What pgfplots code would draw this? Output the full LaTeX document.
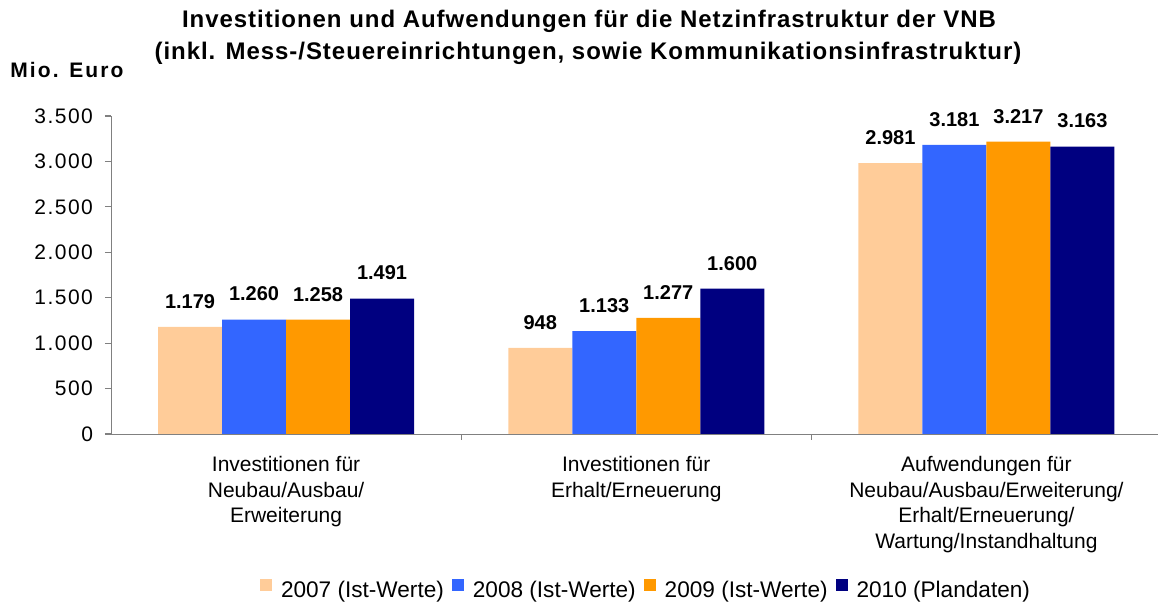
\documentclass[border=0pt]{standalone}
\usepackage{fontspec}
\setmainfont{Liberation Sans}
\usepackage{pgfplots}
\pgfplotsset{compat=1.18}
\definecolor{cA}{HTML}{FFCC99}
\definecolor{cB}{HTML}{3366FF}
\definecolor{cC}{HTML}{FF9900}
\definecolor{cD}{HTML}{000080}
\definecolor{axgray}{HTML}{808080}
\begin{document}
\begin{tikzpicture}
\useasboundingbox (-55.5pt,-84.5pt) rectangle (523.5pt,217pt);
\begin{axis}[
  scale only axis, width=523.5pt, height=159pt,
  xmin=-0.5, xmax=2.49, ymin=0, ymax=3500,
  enlargelimits=false,
  ybar=0pt, bar width=32pt,
  axis x line=bottom, axis y line=left,
  axis line style={draw=axgray, -},
  tick align=outside, major tick length=3pt,
  tick style={draw=axgray, line width=0.6pt},
  ytick={0,500,...,3500},
  yticklabel style={font=\fontsize{10.5}{12}\selectfont\addfontfeatures{LetterSpace=7}, xshift=-2.5pt},
  xtick={0.5,1.5}, xticklabels={,},
  extra x ticks={0,1,2},
  extra x tick labels={{Investitionen für\\Neubau/Ausbau/\\Erweiterung},{Investitionen für\\Erhalt/Erneuerung},{Aufwendungen für\\Neubau/Ausbau/Erweiterung/\\Erhalt/Erneuerung/\\Wartung/Instandhaltung}},
  extra x tick style={major tick length=0pt, xticklabel style={align=center, anchor=north, inner sep=0pt, font=\fontsize{10.5}{12.75}\selectfont, yshift=-11pt}},
  /pgf/number format/1000 sep={.},
  /pgf/number format/assume math mode=true,
  nodes near coords,
  nodes near coords style={font=\fontsize{10}{12}\bfseries, anchor=south, inner sep=0pt, yshift=9pt},
  legend columns=4,
  legend image code/.code={\fill[#1] (0pt,0pt) rectangle (6pt,6pt);},
  legend style={at={(0.511,-0.5314)}, anchor=south, draw=none, inner sep=0pt,
    font=\fontsize{11.3}{12}\selectfont,
    nodes={inner sep=1pt},
    /tikz/every even column/.append style={column sep=3pt},
    /tikz/every odd column/.append style={column sep=3.5pt}},
]
\addplot[fill=cA, draw=none] coordinates {(0,1179) (1,948) (2,2981)};
\addplot[fill=cB, draw=none] coordinates {(0,1260) (1,1133) (2,3181)};
\addplot[fill=cC, draw=none] coordinates {(0,1258) (1,1277) (2,3217)};
\addplot[fill=cD, draw=none] coordinates {(0,1491) (1,1600) (2,3163)};
\legend{2007 (Ist-Werte),2008 (Ist-Werte),2009 (Ist-Werte),2010 (Plandaten)}
\end{axis}
\node[anchor=base, font=\fontsize{12}{14}\bfseries\addfontfeatures{LetterSpace=4}] at (239pt,203pt) {Investitionen und Aufwendungen für die Netzinfrastruktur der VNB};
\node[anchor=base, font=\fontsize{12}{14}\bfseries\addfontfeatures{LetterSpace=4}] at (238.5pt,187pt) {(inkl. Mess-/Steuereinrichtungen, sowie Kommunikationsinfrastruktur)};
\node[anchor=base west, inner sep=0pt, font=\fontsize{10.5}{12}\bfseries\addfontfeatures{LetterSpace=10}] at (-50.5pt,178pt) {Mio. Euro};
\end{tikzpicture}
\end{document}
